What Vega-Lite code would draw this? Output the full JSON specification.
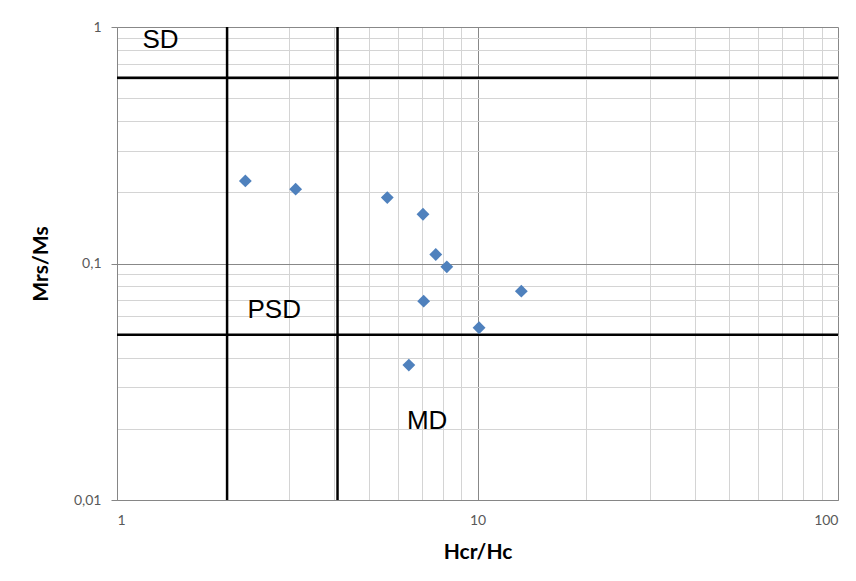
{
  "$schema": "https://vega.github.io/schema/vega-lite/v6.json",
  "width": 721,
  "height": 473,
  "autosize": "none",
  "padding": {"left": 117, "top": 27, "right": 18, "bottom": 81},
  "background": "white",
  "config": {
    "view": {"stroke": null},
    "axis": {"labelFont": "Lato", "titleFont": "Lato", "labelColor": "#595959", "titleColor": "#000000"}
  },
  "datasets": {
    "points": [
      {"hcr_hc": 2.27, "mrs_ms": 0.2235},
      {"hcr_hc": 3.13, "mrs_ms": 0.2062},
      {"hcr_hc": 5.62, "mrs_ms": 0.190},
      {"hcr_hc": 7.06, "mrs_ms": 0.1616},
      {"hcr_hc": 7.66, "mrs_ms": 0.1092},
      {"hcr_hc": 8.22, "mrs_ms": 0.0968},
      {"hcr_hc": 13.23, "mrs_ms": 0.0764},
      {"hcr_hc": 7.09, "mrs_ms": 0.0693},
      {"hcr_hc": 10.1, "mrs_ms": 0.0535},
      {"hcr_hc": 6.45, "mrs_ms": 0.0372}
    ],
    "vlines": [{"hcr_hc": 2.02}, {"hcr_hc": 4.09}],
    "hlines": [{"mrs_ms": 0.61}, {"mrs_ms": 0.05}],
    "labels": [
      {"hcr_hc": 1.32, "mrs_ms": 0.879, "label": "SD"},
      {"hcr_hc": 2.73, "mrs_ms": 0.0635, "label": "PSD"},
      {"hcr_hc": 7.25, "mrs_ms": 0.0216, "label": "MD"}
    ]
  },
  "encoding": {
    "x": {
      "field": "hcr_hc", "type": "quantitative",
      "scale": {"type": "log", "domain": [1, 100], "nice": false},
      "axis": {
        "title": "Hcr/Hc",
        "titleFontSize": 21, "titleFontWeight": "bold", "titlePadding": 14,
        "values": [1,2,3,4,5,6,7,8,9,10,20,30,40,50,60,70,80,90,100],
        "labelExpr": "datum.value == 1 ? '1' : datum.value == 10 ? '10' : datum.value == 100 ? '100' : ''",
        "labelFontSize": 14, "labelPadding": 13,
        "ticks": false,
        "domainColor": "#868686",
        "grid": true,
        "gridColor": {"condition": {"test": "datum.value == 1 || datum.value == 10 || datum.value == 100", "value": "#888888"}, "value": "#d4d4d4"},
        "gridWidth": 1
      }
    },
    "y": {
      "field": "mrs_ms", "type": "quantitative",
      "scale": {"type": "log", "domain": [0.01, 1], "nice": false},
      "axis": {
        "title": "Mrs/Ms",
        "titleFontSize": 21, "titleFontWeight": "bold", "titlePadding": 22,
        "values": [0.01,0.02,0.03,0.04,0.05,0.06,0.07,0.08,0.09,0.1,0.2,0.3,0.4,0.5,0.6,0.7,0.8,0.9,1],
        "labelExpr": "datum.value == 0.01 ? '0,01' : datum.value == 0.1 ? '0,1' : datum.value == 1 ? '1' : ''",
        "labelFontSize": 14, "labelPadding": 10,
        "tickSize": 6, "tickColor": "#868686",
        "tickOpacity": {"condition": {"test": "datum.value == 0.01 || datum.value == 0.1 || datum.value == 1", "value": 1}, "value": 0},
        "domainColor": "#868686",
        "grid": true,
        "gridColor": {"condition": {"test": "datum.value == 0.01 || datum.value == 0.1 || datum.value == 1", "value": "#888888"}, "value": "#d4d4d4"},
        "gridWidth": 1
      }
    }
  },
  "layer": [
    {
      "data": {"name": "vlines"},
      "mark": {"type": "rule", "color": "black", "strokeWidth": 2.5},
      "encoding": {"y": null}
    },
    {
      "data": {"name": "hlines"},
      "mark": {"type": "rule", "color": "black", "strokeWidth": 2.5},
      "encoding": {"x": null}
    },
    {
      "data": {"name": "points"},
      "mark": {"type": "point", "shape": "diamond", "filled": true, "color": "#4F81BD", "opacity": 1, "size": 165}
    },
    {
      "data": {"name": "labels"},
      "mark": {"type": "text", "font": "Liberation Sans", "fontSize": 26, "color": "black"},
      "encoding": {"text": {"field": "label"}}
    }
  ]
}
